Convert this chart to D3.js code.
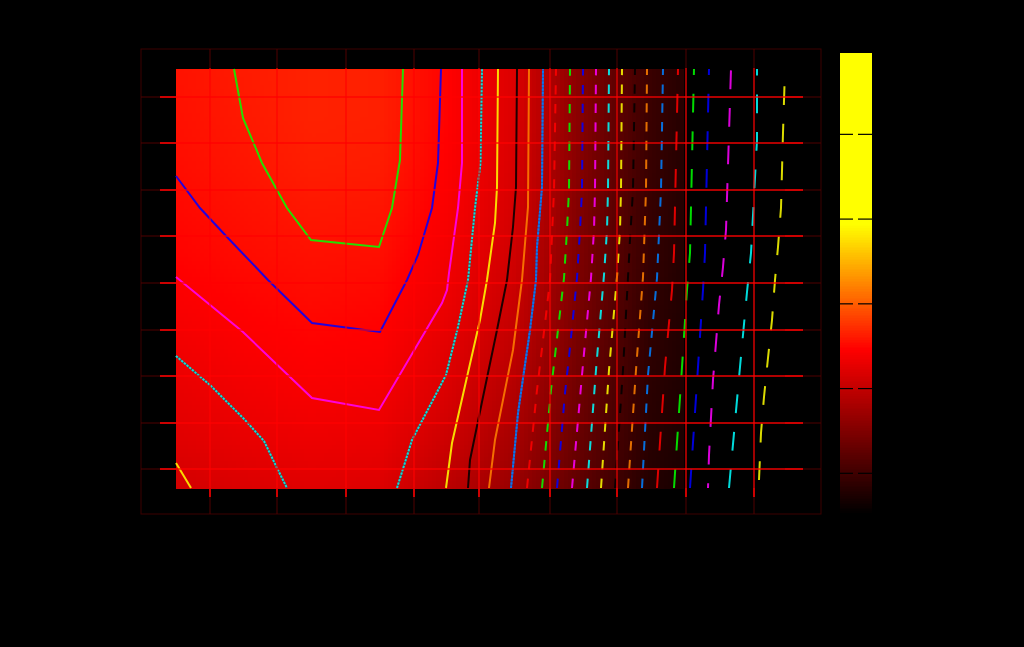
<!DOCTYPE html>
<html><head><meta charset="utf-8">
<script src="https://cdn.jsdelivr.net/npm/d3@7"></script>
<style>html,body{margin:0;background:#000}svg{display:block}</style>
</head><body><svg id="c" width="1024" height="647"></svg>
<script>
// ---- data (arbitrary units: the axis labels are not legible in the source)
const fieldX = [0, 6.77, 13.53, 20.3, 27.07, 33.84, 40.6, 47.37, 54.14];
const fieldY = [0, 4.655, 9.31, 13.97, 18.62, 23.28, 27.93, 32.59, 37.24, 41.9];
const fieldZ = [
 [1.60,1.66,1.70,1.68,1.42,1.16,0.70,0.27,0.10],
 [1.70,1.76,1.80,1.78,1.55,1.26,0.76,0.30,0.12],
 [1.76,1.83,1.88,1.85,1.65,1.35,0.81,0.32,0.12],
 [1.83,1.90,1.94,1.92,1.72,1.45,0.86,0.35,0.12],
 [1.90,1.95,1.99,1.97,1.80,1.52,0.90,0.37,0.12],
 [1.95,2.00,2.03,2.02,1.85,1.58,0.93,0.40,0.12],
 [1.98,2.03,2.07,2.06,1.90,1.62,0.96,0.41,0.12],
 [2.01,2.06,2.11,2.10,1.93,1.65,0.99,0.43,0.12],
 [2.03,2.08,2.13,2.12,1.95,1.67,1.01,0.44,0.12],
 [2.04,2.09,2.13,2.12,1.95,1.67,1.01,0.44,0.12]
];
const xTicks = [3.4, 10.1, 17.0, 23.8, 30.3, 37.4, 44.1, 51.0, 57.8];
const yTicks = [1.9, 6.5, 11.2, 15.8, 20.5, 25.2, 29.8, 34.5, 39.1];
const barTicks = [0.48, 1.48, 2.48, 3.48, 4.48];

const lineGreen = [[5.8,41.9],[6.7,37],[8.6,32.5],[11.1,28],[13.5,24.8],[20.3,24.1],[21.6,28],[22.4,32.8],[22.7,41.9]];
const lineBlue = [[0,31.2],[2.4,28],[5.1,25.1],[9.2,20.8],[13.6,16.5],[20.4,15.6],[23.1,20.8],[24.2,23.3],[25.6,28],[26.2,32.5],[26.5,41.9]];
const linePink = [[0,21.1],[6.7,15.6],[13.6,9],[20.3,7.8],[26.6,18.5],[27.1,19.8],[27.3,21.5],[28.2,28],[28.6,32.5],[28.6,41.9]];
const lineCyanL = [[0,13.2],[3.4,10.3],[6.9,6.8],[8.8,4.7],[10.1,2],[11.1,0]];
const lineCyanR = [[22.1,0],[23.6,4.8],[27,11.3],[28.2,16.1],[29.2,20.8],[29.9,28],[30.45,32.5],[30.6,41.9]];
const lineYellowL = [[0,2.5],[1.5,0]];
const lineYellowR = [[27,0],[27.6,4.5],[29.1,11.1],[30.4,16.8],[31.1,20.8],[31.9,26.5],[32.1,30.1],[32.2,41.9]];
const lineBlack = [[29.2,0],[29.4,2.8],[30.7,9.1],[32.1,15.8],[33.1,20.8],[33.7,26.1],[34,30.1],[34.1,41.9]];
const lineOrange = [[31.3,0],[31.9,4.8],[33.7,13.8],[34.6,20.8],[35.2,28.1],[35.3,41.9]];
const lineSky = [[33.5,0],[34.2,7.5],[35.4,15.8],[36,20.8],[36.1,24.1],[36.6,30.1],[36.7,41.9]];
const dashRedA = [[35.1,0],[36.1,9.8],[37,17.3],[37.4,20.8],[37.8,29.8],[38,41.9]];
const dashGreenA = [[36.6,0],[37.5,9.8],[38.8,21],[39.1,25.8],[39.3,29.8],[39.4,41.9]];
const dashBlueA = [[38.1,0],[38.9,9.5],[39.3,13.1],[40.1,21],[40.4,25.8],[40.6,29.8],[40.7,41.9]];
const dashMagentaA = [[39.6,0],[40.6,11.3],[41.5,21],[41.8,25.8],[41.9,29.8],[42,41.9]];
const dashCyanA = [[41.1,0],[42,11.8],[42.8,21.3],[43.1,25.8],[43.2,29.8],[43.3,41.9]];
const dashYellowA = [[42.5,0],[43.3,11.8],[44.1,21.1],[44.4,25.8],[44.5,29.8],[44.6,41.9]];
const dashBlackA = [[43.9,0],[44.7,11.8],[45.4,24.8],[45.7,29.8],[45.9,41.9]];
const dashOrangeA = [[45.2,0],[46,11.8],[46.7,21.1],[47,29.8],[47.1,41.9]];
const dashSkyA = [[46.6,0],[47.2,11.3],[48.1,21],[48.5,29.8],[48.7,41.9]];
const dashRedB = [[48.1,0],[48.9,12.1],[49.6,19.8],[49.8,23.5],[50.2,41.9]];
const dashGreenB = [[49.8,0],[50.6,12.1],[51.1,19.8],[51.4,23.5],[51.8,41.9]];
const dashBlueB = [[51.4,0],[52.2,12.1],[52.7,19.8],[52.9,23.5],[53.3,41.9]];
const dashMagentaB = [[53.2,0],[53.3,3.3],[53.7,10.8],[54.3,18.3],[54.7,22.1],[55,25.8],[55.5,41.9]];
const dashCyanB = [[55.3,0],[56.4,12.1],[57.1,19.6],[57.5,23.5],[58.1,34.8],[58.1,41.9]];
const dashYellowB = [[58.3,0.8],[58.5,5.5],[58.8,9.1],[59.2,13],[59.6,16.8],[59.9,20.8],[60.2,24.1],[60.5,28],[60.7,35.5],[60.9,41.9]];

// ---- styles
const solid = [
 [lineGreen,'#00ff00'],[lineBlue,'#0000ff'],[linePink,'#ff00ff'],
 [lineCyanL,'#00ffff','2.2 1.3'],[lineCyanR,'#00ffff','2.2 1.3'],
 [lineYellowL,'#ffff00'],[lineYellowR,'#ffff00'],[lineBlack,'#000000'],
 [lineOrange,'#ff8000'],[lineSky,'#0080ff','2.2 1.3']
];
const dashedA = [[dashRedA,'#ff0000'],[dashGreenA,'#00ff00'],[dashBlueA,'#0000ff'],[dashMagentaA,'#ff00ff'],
 [dashCyanA,'#00ffff'],[dashYellowA,'#ffff00'],[dashBlackA,'#000000'],[dashOrangeA,'#ff8000'],[dashSkyA,'#0080ff']];
const dashedB = [[dashRedB,'#ff0000',0],[dashGreenB,'#00ff00',0],[dashBlueB,'#0000ff',0],[dashMagentaB,'#ff00ff',14],
 [dashCyanB,'#00ffff',0],[dashYellowB,'#ffff00',0]];

// ---- scales
const x = d3.scaleLinear().domain([0,60.9]).range([176,785]);
const y = d3.scaleLinear().domain([0,41.9]).range([488,69]);
const barY = d3.scaleLinear().domain([0,5.44]).range([514,53]);
const color = d3.scaleLinear().domain([0,1.94,3.41,5.44]).range(['#000000','#ff0000','#ffff00','#ffff00']).clamp(true);

const svg = d3.select('#c');
svg.append('rect').attr('width',1024).attr('height',647).attr('fill','#000');

// ---- frame and thin outer lines, under everything
const under = svg.append('g');
under.append('rect').attr('x',141).attr('y',49).attr('width',680).attr('height',465)
  .attr('fill','none').attr('stroke','#3c0000').attr('stroke-width',1);
xTicks.forEach(t=>under.append('line').attr('x1',x(t)).attr('x2',x(t)).attr('y1',49).attr('y2',514).attr('stroke','#500000'));
yTicks.forEach(t=>under.append('line').attr('x1',141).attr('x2',821).attr('y1',y(t)).attr('y2',y(t)).attr('stroke','#500000'));

// ---- heat field
function fieldAt(px,py){
  const i = Math.min(fieldX.length-2, Math.max(0,d3.bisectRight(fieldX,px)-1));
  const j = Math.min(fieldY.length-2, Math.max(0,d3.bisectRight(fieldY,py)-1));
  const u = (px-fieldX[i])/(fieldX[i+1]-fieldX[i]);
  const v = (py-fieldY[j])/(fieldY[j+1]-fieldY[j]);
  return (1-v)*((1-u)*fieldZ[j][i]+u*fieldZ[j][i+1]) + v*((1-u)*fieldZ[j+1][i]+u*fieldZ[j+1][i+1]);
}
const heatEndX = 50.75, cell = 0.4;
const cells = [];
for (const cy of d3.range(0,41.9,cell)) for (const cx of d3.range(0,heatEndX,cell)) cells.push([cx,cy]);
svg.append('g').attr('shape-rendering','crispEdges').selectAll('rect').data(cells).join('rect')
  .attr('x',d=>x(d[0])).attr('y',d=>y(Math.min(41.9,d[1]+cell)))
  .attr('width',d=>x(Math.min(heatEndX,d[0]+cell))-x(d[0])+0.5)
  .attr('height',d=>y(d[1])-y(Math.min(41.9,d[1]+cell))+0.5)
  .attr('fill',d=>color(fieldAt(d[0]+cell/2,d[1]+cell/2)));

// ---- contour lines
const path = d3.line().x(d=>x(d[0])).y(d=>y(d[1]));
const gl = svg.append('g').attr('fill','none').attr('stroke-opacity',0.86).attr('stroke-width',2);
solid.forEach(([pts,c,speck])=>{
  if(speck){
    gl.append('path').attr('d',path(pts)).attr('stroke',c==='#00ffff'?'#505050':'#2a50b0').attr('stroke-opacity',1);
    gl.append('path').attr('d',path(pts)).attr('stroke',c).attr('stroke-opacity',0.8).attr('stroke-dasharray',speck);
  } else gl.append('path').attr('d',path(pts)).attr('stroke',c);
});
dashedA.forEach(([pts,c])=>gl.append('path').attr('d',path(pts)).attr('stroke',c).attr('stroke-dasharray','9.4 9.4'));
dashedB.forEach(([pts,c,o])=>gl.append('path').attr('d',path(pts)).attr('stroke',c).attr('stroke-dasharray','18.8 18.8').attr('stroke-dashoffset',o));

// ---- grid and ticks
const axisG = svg.append('g');
xTicks.forEach(t=>{
  const px = x(t);
  axisG.append('line').attr('x1',px).attr('x2',px).attr('y1',68).attr('y2',488).attr('stroke','#ff0000').attr('stroke-width',1.3).attr('stroke-opacity',.85);
  axisG.append('line').attr('x1',px).attr('x2',px).attr('y1',488).attr('y2',497).attr('stroke','#e00000').attr('stroke-width',1.8);
});
yTicks.forEach(t=>{
  const py = y(t);
  axisG.append('line').attr('x1',176).attr('x2',785).attr('y1',py).attr('y2',py).attr('stroke','#ff0000').attr('stroke-width',1.3).attr('stroke-opacity',.85);
  axisG.append('line').attr('x1',160).attr('x2',176).attr('y1',py).attr('y2',py).attr('stroke','#e00000').attr('stroke-width',1.8);
  axisG.append('line').attr('x1',785).attr('x2',803).attr('y1',py).attr('y2',py).attr('stroke','#e00000').attr('stroke-width',1.8);
});

// ---- colour bar
const steps = d3.range(0,5.44,0.02);
svg.append('g').attr('shape-rendering','crispEdges').selectAll('rect').data(steps).join('rect')
  .attr('x',840).attr('width',32)
  .attr('y',d=>barY(d+0.02)).attr('height',d=>barY(d)-barY(d+0.02)+0.5)
  .attr('fill',d=>color(d));
barTicks.forEach(t=>{
  [[839,853],[858,872.5]].forEach(([a,b])=>{
    svg.append('line').attr('x1',a).attr('x2',b).attr('y1',barY(t)).attr('y2',barY(t)).attr('stroke','#000').attr('stroke-width',1.2);
  });
});
</script></body></html>
